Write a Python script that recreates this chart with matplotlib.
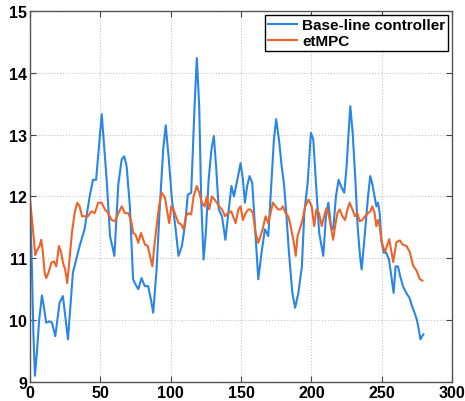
import matplotlib
matplotlib.use("Agg")
import matplotlib.pyplot as plt

# Base-line controller trace
base_x = [0, 1.2, 2.4, 3.5, 5, 6.5, 8.5, 10, 11.5, 13.9, 15.6, 18, 21, 23.4, 27, 30.5, 35.3, 38.8,
          42.4, 44.8, 47, 51, 54.5, 56.9, 60, 62.8, 65.2, 67, 68.7, 71, 73.3, 74.5, 77, 79.3,
          81.6, 84, 86, 87.6, 90, 92.3, 94.7, 96.5, 98.5, 100.9, 103.3, 105.6, 108, 110.4,
          112.2, 114.6, 117, 118.6, 120.3, 121.7, 123.4, 125, 127, 129, 130.7, 132.3, 134.2,
          136.5, 138.9, 141.3, 143.2, 145, 147.4, 149.7, 151.4, 152.8, 154.4, 156.1, 158,
          159.9, 162.3, 164.6, 167, 169.4, 171.7, 173.4, 175, 177, 178.9, 180.5, 182.2, 184.1,
          186.5, 188.5, 190.8, 193.3, 195, 197.4, 199.7, 201.4, 203.3, 205.6, 208.5, 210.4,
          212.1, 214, 215.6, 217.5, 219.4, 221, 223.4, 225.1, 226.5, 227.7, 229.4, 231.3,
          232.9, 234.6, 235.8, 237.7, 240.3, 241.9, 243.4, 245, 246.2, 247.4, 248.6, 249.8,
          251.4, 253.3, 255.2, 256.9, 258.5, 259.9, 261.6, 263.2, 265.1, 267.5, 269.8, 271.7,
          273.4, 275, 276.4, 277.6, 278.8, 279.7]
base_y = [11.9, 11.0, 9.8, 9.1, 9.5, 10.0, 10.4, 10.2, 9.96, 9.98, 9.96, 9.74, 10.28, 10.39, 9.69,
          10.77, 11.2, 11.47, 12.0, 12.27, 12.27, 13.33, 12.27, 11.36, 11.04, 12.2, 12.6, 12.65,
          12.49, 11.84, 10.66, 10.6, 10.5, 10.68, 10.55, 10.55, 10.33, 10.12, 10.82, 11.84,
          12.76, 13.15, 12.65, 11.95, 11.52, 11.04, 11.2, 11.57, 12.03, 12.06, 13.46, 14.24,
          13.46, 11.95, 10.98, 11.41, 12.27, 12.76, 12.98, 12.49, 11.79, 11.68, 11.3, 11.79,
          12.17, 12.0, 12.27, 12.54, 12.27, 11.9, 12.17, 12.33, 12.22, 11.52, 10.66, 11.09,
          11.47, 11.36, 12.27, 12.92, 13.25, 12.92, 12.49, 12.22, 11.73, 11.09, 10.44, 10.2,
          10.44, 10.87, 11.73, 12.22, 13.03, 12.92, 12.22, 11.41, 11.04, 11.68, 11.9, 11.52,
          11.47, 12.0, 12.27, 12.17, 12.06, 12.49, 13.03, 13.46, 13.03, 12.27, 11.52, 11.04,
          10.82, 11.3, 12.0, 12.33, 12.2, 12.0, 11.84, 11.9, 11.73, 11.3, 11.09, 11.09,
          10.98, 10.71, 10.44, 10.87, 10.87, 10.71, 10.55, 10.44, 10.36, 10.22, 10.12, 10.01,
          9.85, 9.69, 9.74, 9.77]

# etMPC trace
mpc_x = [0, 1.4, 2.8, 3.7, 5.2, 6.8, 8, 9.2, 10.4, 11.5, 13.2, 15.2, 17, 18.7, 20.6, 22.2, 23.4,
         25, 26.5, 28.1, 29.8, 31.7, 33.6, 35.3, 37, 39.3, 41.2, 43.6, 46, 48.5, 50.9, 53.3,
         55.6, 58, 60.4, 62.8, 65.2, 67.5, 69.9, 71.8, 73.4, 75.1, 77, 78.9, 80.6, 81.8, 83.7,
         85.3, 87, 88.4, 90, 91.7, 93.6, 95.4, 96.2, 98.1, 99, 100.4, 102.1, 103.7, 105.6,
         107.5, 109.2, 110.8, 112.7, 114.6, 116.3, 118.6, 120.3, 122.2, 124.1, 125.7, 127.4,
         129.3, 131.2, 132.8, 134.5, 136.5, 138.8, 140.7, 143.1, 146.2, 148.1, 149.7, 151.4,
         153.3, 155.2, 156.8, 158.5, 160.4, 162.3, 163.9, 165.6, 167.5, 169.4, 171, 172.7,
         174.6, 176.5, 178.2, 179.8, 181.7, 183.6, 185.3, 187.6, 188.9, 190.2, 191.8, 193.7,
         195.6, 198, 200.3, 202, 203.6, 205.5, 207.4, 209.1, 210.7, 212.2, 213.8, 215.5,
         216.9, 218.6, 220.2, 222.1, 224, 225.7, 227.3, 229.2, 231.1, 232.7, 234.4, 236.3,
         238.2, 240.3, 241.9, 243.4, 245, 246.2, 247.4, 248.6, 250, 252.3, 255.4, 258.2,
         260.5, 263, 265, 267.7, 270, 272.4, 274.8, 277.2, 279]
mpc_y = [11.95, 11.62, 11.3, 11.05, 11.14, 11.2, 11.3, 11.09, 10.77, 10.68, 10.77, 10.93, 10.95,
         10.87, 11.2, 11.09, 10.93, 10.82, 10.6, 10.98, 11.41, 11.73, 11.9, 11.84, 11.68,
         11.68, 11.68, 11.76, 11.73, 11.9, 11.9, 11.79, 11.73, 11.62, 11.6, 11.73, 11.84,
         11.73, 11.73, 11.62, 11.41, 11.38, 11.25, 11.41, 11.3, 11.22, 11.2, 11.04, 10.87,
         11.2, 11.52, 11.84, 12.06, 12.0, 11.95, 11.68, 11.57, 11.84, 11.79, 11.68, 11.57,
         11.55, 11.47, 11.68, 11.73, 11.71, 12.0, 12.17, 12.06, 11.9, 11.84, 12.0, 11.79,
         12.0, 11.95, 11.9, 11.84, 11.79, 11.68, 11.73, 11.76, 11.57, 11.79, 11.84, 11.62,
         11.73, 11.79, 11.79, 11.73, 11.41, 11.25, 11.36, 11.49, 11.68, 11.57, 11.73, 11.9,
         11.84, 11.79, 11.79, 11.84, 11.73, 11.68, 11.52, 11.25, 11.04, 11.36, 11.47, 11.62,
         11.84, 11.95, 11.84, 11.52, 11.79, 11.73, 11.52, 11.68, 11.81, 11.73, 11.52, 11.3,
         11.52, 11.73, 11.79, 11.68, 11.62, 11.79, 11.9, 11.79, 11.68, 11.73, 11.6, 11.62,
         11.68, 11.73, 11.76, 11.84, 11.73, 11.52, 11.62, 11.52, 11.26, 11.1, 11.31, 10.94,
         11.26, 11.29, 11.22, 11.2, 11.1, 10.88, 10.8, 10.66, 10.64]

x_ticks = [0, 50, 100, 150, 200, 250, 300]
y_ticks = [9, 10, 11, 12, 13, 14, 15]

plt.rcParams['font.family'] = ['Liberation Sans', 'DejaVu Sans']

fig = plt.figure(figsize=(4.65, 4.02), dpi=100)
ax = fig.add_axes([0.0645, 0.0473, 0.9075, 0.9229])

ax.plot(base_x, base_y, color="#2a86e6", linewidth=1.5, label="Base-line controller")
ax.plot(mpc_x, mpc_y, color="#ee6328", linewidth=1.5, label="etMPC")

ax.set_xlim(0, 300)
ax.set_ylim(9, 15)
ax.set_xticks(x_ticks)
ax.set_yticks(y_ticks)
ax.tick_params(direction="in", top=True, right=True, length=4, width=0.8,
               labelsize=11.5, pad=2, colors="#444444", labelcolor="black")
for lbl in ax.get_xticklabels() + ax.get_yticklabels():
    lbl.set_fontweight("bold")
for sp in ax.spines.values():
    sp.set_color("#555555")
    sp.set_linewidth(1.0)
ax.grid(True, linestyle=":", color="#c4c4c4", linewidth=0.8)

leg = ax.legend(loc="upper right", prop={"weight": "bold", "size": 11},
                fancybox=False, edgecolor="black", framealpha=1, handlelength=1.9,
                borderpad=0.2, labelspacing=0.15, handletextpad=0.3,
                borderaxespad=0.25)
leg.get_frame().set_linewidth(1.0)

fig.savefig("out.png", dpi=100)
